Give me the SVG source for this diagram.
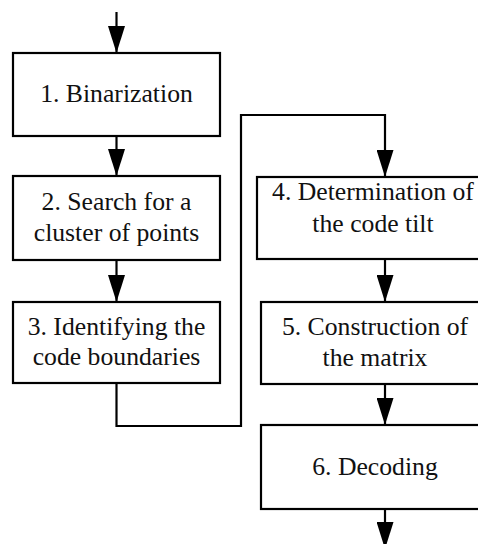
<svg xmlns="http://www.w3.org/2000/svg" width="478" height="544" viewBox="0 0 478 544">
<style>
.box{fill:#fff;stroke:#000;stroke-width:2.2}
.t{font-family:'Liberation Serif',serif;font-size:25.7px;fill:#111;text-anchor:middle}
.c{fill:none;stroke:#000;stroke-width:2.2}
</style>
<defs>
<marker id="ah" viewBox="0 0 27 17" refX="27" refY="8.5" markerWidth="27" markerHeight="17" markerUnits="userSpaceOnUse" orient="auto">
<path d="M0,0 L27,8.5 L0,17 Z" fill="#000"/>
</marker>
</defs>
<rect width="478" height="544" fill="#fff"/>
<g id="connectors">
<line class="c" x1="116.5" y1="12" x2="116.5" y2="53" marker-end="url(#ah)"/>
<line class="c" x1="116.5" y1="136" x2="116.5" y2="176" marker-end="url(#ah)"/>
<line class="c" x1="116.5" y1="260" x2="116.5" y2="302" marker-end="url(#ah)"/>
<polyline class="c" points="116.5,383 116.5,426 241,426 241,115 385,115 385,177" marker-end="url(#ah)"/>
<line class="c" x1="385" y1="259" x2="385" y2="302" marker-end="url(#ah)"/>
<line class="c" x1="385" y1="384" x2="385" y2="425" marker-end="url(#ah)"/>
<line class="c" x1="385" y1="509" x2="385" y2="549" marker-end="url(#ah)"/>
</g>
<g id="n1"><rect class="box" x="13" y="53" width="207" height="83"/><text class="t" x="116.5" y="102" font-family="Liberation Serif">1. Binarization</text></g>
<g id="n2"><rect class="box" x="13" y="176" width="207" height="84"/><text class="t" x="116.5" y="210">2. Search for a</text><text class="t" x="116.5" y="241">cluster of points</text></g>
<g id="n3"><rect class="box" x="13" y="302" width="207" height="81"/><text class="t" x="116.5" y="335">3. Identifying the</text><text class="t" x="116.5" y="365">code boundaries</text></g>
<g id="n4"><rect class="box" x="257" y="177" width="233" height="82"/><text class="t" x="373" y="200">4. Determination of</text><text class="t" x="373" y="232">the code tilt</text></g>
<g id="n5"><rect class="box" x="261" y="302" width="229" height="82"/><text class="t" x="375" y="335">5. Construction of</text><text class="t" x="375" y="366">the matrix</text></g>
<g id="n6"><rect class="box" x="261" y="425" width="229" height="84"/><text class="t" x="375" y="475">6. Decoding</text></g>
</svg>
